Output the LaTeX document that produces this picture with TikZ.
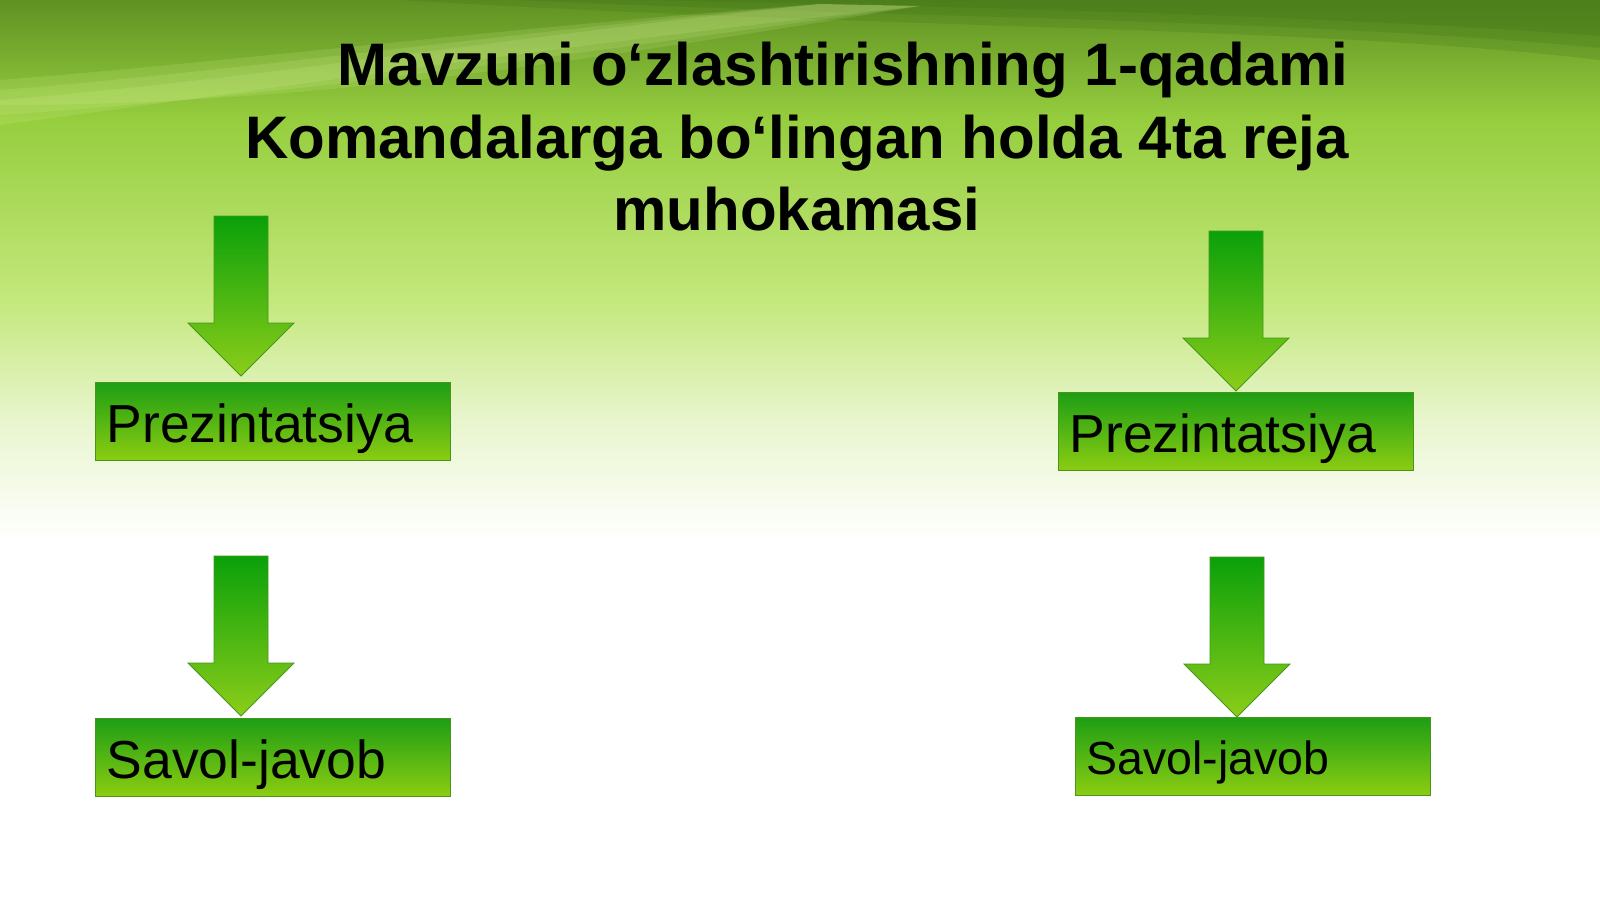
\documentclass[tikz,border=0pt]{standalone}
\usepackage{fontspec}
\setmainfont{Liberation Sans}
\usetikzlibrary{calc}

\definecolor{bgtop}{RGB}{95,145,35}
\definecolor{bgmid}{RGB}{150,206,62}
\definecolor{bglight}{RGB}{196,232,124}
\definecolor{bgpale}{RGB}{232,245,205}
\definecolor{bgstreak}{RGB}{235,255,170}
\definecolor{bgdark}{RGB}{55,105,20}
\definecolor{boxtop}{RGB}{30,158,20}
\definecolor{boxbottom}{RGB}{140,205,18}
\definecolor{boxline}{RGB}{70,150,28}
\definecolor{arrowtop}{RGB}{10,160,10}
\definecolor{arrowbottom}{RGB}{140,205,25}

\tikzset{
  planbox/.style={draw=boxline, line width=1.2pt, top color=boxtop, bottom color=boxbottom,
    anchor=north west, inner xsep=11pt, text width=333pt, align=left, minimum height=78pt,
    text height=41.5pt, text depth=0pt, font=\fontsize{53.5}{60}\selectfont},
  smallplan/.style={text height=36pt, font=\fontsize{46.5}{54}\selectfont},
  blockarrow/.style={draw=boxline, line width=0.8pt, top color=arrowtop, bottom color=arrowbottom},
  titletext/.style={align=center, inner sep=0pt, font=\fontsize{60}{72.5}\selectfont\bfseries}
}

\begin{document}
\begin{tikzpicture}[x=1pt, y=-1pt]
  \useasboundingbox (0,0) rectangle (1600,899);
  % background
  \fill[white] (0,0) rectangle (1600,899);
  \shade[top color=bgtop, bottom color=bgmid] (0,0) rectangle (1600,120);
  \shade[top color=bgmid, bottom color=bglight] (0,120) rectangle (1600,300);
  \shade[top color=bglight, bottom color=bgpale] (0,300) rectangle (1600,420);
  \shade[top color=bgpale, bottom color=white] (0,420) rectangle (1600,540);
  \foreach \s in {0,12,24}
    \fill[bgdark, opacity=0.18] (400,0) -- (1600,0) -- (1600,{60-\s}) .. controls (1300,{25-\s/2}) and (900,{30-\s}) .. ({400+\s*10},0) -- cycle;
  \foreach \s in {0,10,20}
    \fill[bgstreak, opacity=0.13] (0,{80+\s}) .. controls (250,{60+\s}) and (500,{28+\s/2}) .. (820,4) -- (920,6) .. controls (560,{45+\s}) and (300,{85+\s}) .. (0,{125-\s}) -- cycle;

  \node[titletext, anchor=north] (title) at (797,42)
    {\hspace*{92pt}Mavzuni o‘zlashtirishning 1-qadami\\Komandalarga bo‘lingan holda 4ta reja\\muhokamasi};

  \node[planbox] (prezLeft) at (95,382) {Prezintatsiya};
  \node[planbox] (prezRight) at (1058,392) {Prezintatsiya};
  \node[planbox] (savolLeft) at (95,718) {Savol-javob};
  \node[planbox, smallplan] (savolRight) at (1075,717) {Savol-javob};

  % arrows down to the boxes
  \foreach \b/\dx/\dy in {prezLeft/146/6, prezRight/178/1, savolLeft/146/2, savolRight/162/0}
    \path[blockarrow] ($(\b.north west)+(\dx,-\dy)$) -- ++(-53,-53) -- ++(26,0) -- ++(0,-107)
      -- ++(54,0) -- ++(0,107) -- ++(26,0) -- cycle;
\end{tikzpicture}
\end{document}
